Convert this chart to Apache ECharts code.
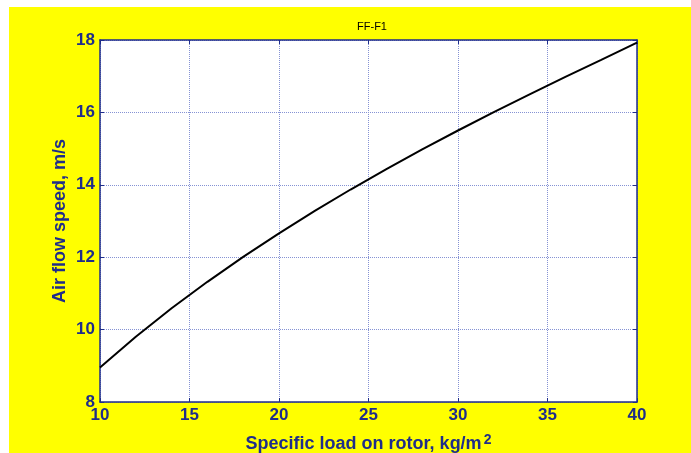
<!DOCTYPE html>
<html>
<head>
<meta charset="utf-8">
<script src="https://cdn.jsdelivr.net/npm/echarts@6/dist/echarts.min.js"></script>
<style>
html,body{margin:0;padding:0;background:#fff;}
#chart{width:691px;height:453px;}
</style>
</head>
<body>
<div id="chart"></div>
<script>
const titleText = 'FF-F1';
const xTicks = [10, 15, 20, 25, 30, 35, 40];
const yTicks = [8, 10, 12, 14, 16, 18];
const load = [10, 12, 14, 16, 18, 20, 22, 24, 26, 28, 30, 32, 34, 36, 38, 40];
const speed = [8.95, 9.80, 10.59, 11.32, 12.01, 12.66, 13.28, 13.87, 14.43, 14.98, 15.50, 16.01, 16.50, 16.98, 17.45, 17.93];

const axisColor = '#1f2d8a';
const gridColor = '#8592d4';
const font = 'Liberation Sans, Arial';
const chart = echarts.init(document.getElementById('chart'), null, {renderer: 'canvas'});
const data = load.map((x, i) => [x, speed[i]]);

const baseAxis = {
  axisLine: {show: true, onZero: false, lineStyle: {color: axisColor, width: 1.5}},
  axisTick: {show: true, inside: true, length: 4, lineStyle: {color: axisColor}},
  splitLine: {show: false}
};

chart.setOption({
  backgroundColor: '#ffffff',
  animation: false,
  graphic: [{
    type: 'rect', z: -10, silent: true,
    shape: {x: 9, y: 7, width: 682, height: 446},
    style: {fill: '#ffff00'}
  }],
  title: {
    text: titleText, left: 367, top: 16, textAlign: 'center',
    textStyle: {fontFamily: font, fontSize: 11, fontWeight: 'normal', color: '#000'}
  },
  grid: {left: 100, right: 54, top: 40, bottom: 51, show: true, backgroundColor: '#ffffff', borderWidth: 0, outerBoundsMode: 'none', containLabel: false},
  xAxis: [
    Object.assign({}, baseAxis, {
      type: 'value', min: 10, max: 40, interval: 5, position: 'bottom',
      splitLine: {show: true, lineStyle: {color: gridColor, type: [1, 1], width: 1}},
      axisLabel: {margin: 5, color: axisColor, fontFamily: font, fontWeight: 'bold', fontSize: 17},
      name: '{a|Specific load on rotor, kg/m}{s|2}',
      nameLocation: 'middle', nameGap: 31, nameMoveOverlap: false,
      nameTextStyle: {
        rich: {
          a: {fontFamily: font, fontWeight: 'bold', fontSize: 18, color: axisColor, lineHeight: 22},
          s: {fontFamily: font, fontWeight: 'bold', fontSize: 14, color: axisColor, verticalAlign: 'top', lineHeight: 14, padding: [0, 0, 0, 2]}
        }
      }
    }),
    Object.assign({}, baseAxis, {
      type: 'value', min: 10, max: 40, interval: 5, position: 'top',
      axisLabel: {show: false}
    })
  ],
  yAxis: [
    Object.assign({}, baseAxis, {
      type: 'value', min: 8, max: 18, interval: 2, position: 'left',
      splitLine: {show: true, lineStyle: {color: gridColor, type: [1, 1], width: 1}},
      axisLabel: {margin: 5, color: axisColor, fontFamily: font, fontWeight: 'bold', fontSize: 17},
      name: 'Air flow speed, m/s', nameLocation: 'middle', nameGap: 31, nameRotate: 90, nameMoveOverlap: false,
      nameTextStyle: {fontFamily: font, fontWeight: 'bold', fontSize: 18, color: axisColor}
    }),
    Object.assign({}, baseAxis, {
      type: 'value', min: 8, max: 18, interval: 2, position: 'right',
      axisLabel: {show: false}
    })
  ],
  series: [{
    type: 'line', data: data, xAxisIndex: 0, yAxisIndex: 0,
    showSymbol: false, smooth: false,
    lineStyle: {color: '#000', width: 2}
  }]
});
</script>
</body>
</html>
